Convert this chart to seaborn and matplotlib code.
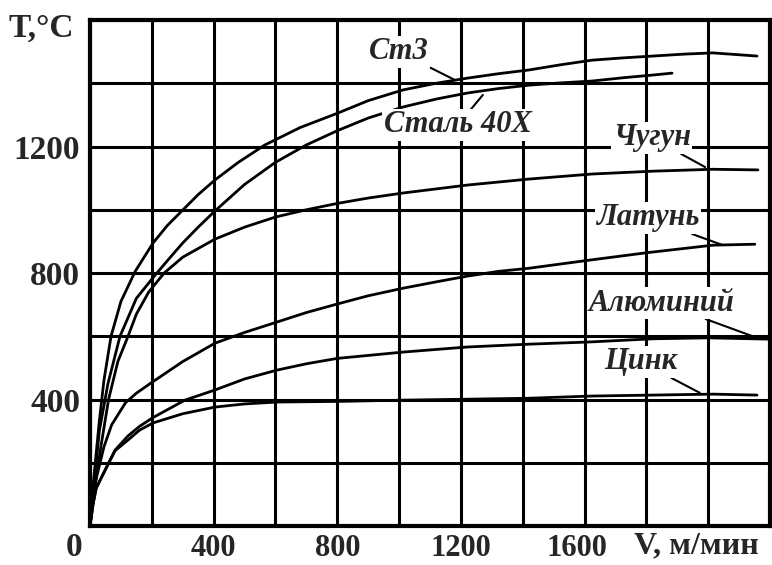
import pandas as pd
import seaborn as sns
import matplotlib.pyplot as plt
import matplotlib.transforms as mtransforms
from matplotlib.ticker import MultipleLocator, FuncFormatter

# V, m/min  and  T, deg C
v_st3 = [0, 5, 10, 19, 30, 45, 68, 100, 146, 204, 250, 301, 350, 404, 480, 566, 680, 800, 900,
         1013, 1120, 1220, 1320, 1420, 1520, 1624, 1721, 1821, 1920, 2015, 2158]
t_st3 = [0, 60, 130, 220, 330, 460, 600, 710, 805, 895, 950, 1000, 1048, 1094, 1150, 1205, 1260, 1305, 1345,
         1379, 1400, 1416, 1430, 1442, 1458, 1473, 1480, 1486, 1492, 1496, 1486]

v_40x = [0, 8, 15, 30, 58, 97, 150, 212, 260, 300, 350, 404, 500, 600, 700, 800, 900,
         1013, 1120, 1220, 1320, 1420, 1520, 1624, 1721, 1821, 1883]
t_40x = [0, 80, 150, 300, 450, 600, 720, 795, 850, 895, 945, 996, 1080, 1150, 1205, 1250, 1290,
         1325, 1350, 1369, 1383, 1394, 1401, 1407, 1417, 1426, 1432]

v_cast = [0, 8, 15, 35, 60, 90, 123, 150, 190, 240, 300, 404, 500, 600, 700, 800, 900,
          1013, 1220, 1420, 1624, 1821, 2015, 2161]
t_cast = [0, 70, 120, 250, 400, 520, 600, 670, 740, 800, 850, 907, 945, 977, 1000, 1020, 1037,
          1053, 1078, 1097, 1113, 1122, 1128, 1126]

v_brass = [0, 10, 20, 45, 70, 115, 150, 197, 300, 404, 500, 605, 700, 800, 900, 1013, 1120,
           1220, 1320, 1420, 1618, 1800, 2015, 2151]
t_brass = [0, 90, 150, 250, 320, 390, 420, 452, 520, 578, 612, 645, 675, 702, 728, 752, 772,
           790, 805, 815, 841, 864, 888, 891]

v_alu = [0, 10, 20, 49, 81, 123, 160, 204, 307, 404, 500, 605, 700, 800, 1013,
         1220, 1420, 1618, 1821, 2000, 2193]
t_alu = [0, 70, 120, 177, 240, 285, 315, 343, 398, 430, 465, 493, 513, 530, 550,
         566, 575, 582, 592, 595, 591]

v_zinc = [0, 10, 20, 49, 81, 123, 160, 204, 300, 404, 500, 605, 800, 1013,
          1220, 1420, 1624, 1821, 2015, 2158]
t_zinc = [0, 70, 120, 177, 238, 272, 303, 326, 355, 376, 386, 392, 394, 398,
          401, 404, 411, 414, 417, 414]

names = ["Ст3", "Сталь 40X", "Чугун", "Латунь", "Алюминий", "Цинк"]
series = [(v_st3, t_st3), (v_40x, t_40x), (v_cast, t_cast),
          (v_brass, t_brass), (v_alu, t_alu), (v_zinc, t_zinc)]

# label centre and the point on the curve the leader goes to
label_pos = [(1000, 1499), (1190, 1268), (1818, 1227), (1805, 974), (1850, 705), (1782, 519)]
leader_end = [(1181, 1410), (1271, 1363), (1990, 1135), (2045, 889), (2161, 594), (1973, 421)]

x_labels = [400, 800, 1200, 1600]
y_labels = [400, 800, 1200]

rows = []
for name, (v, t) in zip(names, series):
    for a, b in zip(v, t):
        rows.append((name, a, b))
df = pd.DataFrame(rows, columns=["material", "V", "T"])

sns.set_style("white")
plt.rcParams['font.family'] = ['Liberation Serif', 'DejaVu Serif']

fig = plt.figure(figsize=(7.72, 5.65), dpi=100)
ax = fig.add_axes([0.1166, 0.069, 0.8808, 0.8956])

sns.lineplot(data=df, x="V", y="T", units="material", estimator=None,
             color="black", lw=2.0, ax=ax, zorder=3)

ax.set(xlim=(0, 2200), ylim=(0, 1600), xlabel="", ylabel="")
ax.xaxis.set_major_locator(MultipleLocator(200))
ax.yaxis.set_major_locator(MultipleLocator(200))
ax.xaxis.set_major_formatter(FuncFormatter(lambda x, p: f"{x:.0f}" if round(x) in x_labels else ""))
ax.yaxis.set_major_formatter(FuncFormatter(lambda y, p: f"{y:.0f}" if round(y) in y_labels else ""))
ax.grid(True, color="black", lw=2.2)
ax.set_axisbelow(True)
ax.tick_params(length=0)
ax.tick_params(axis="x", labelsize=22, pad=16)
ax.tick_params(axis="y", labelsize=24, pad=7)
for lab in ax.get_xticklabels():
    lab.set_fontweight("bold")
    lab.set_va("center")
for lab in ax.get_yticklabels():
    lab.set_fontweight("bold")
for sp in ax.spines.values():
    sp.set_visible(True)
    sp.set_color("black")
    sp.set_linewidth(3)

# nudge "1600" left to make room for the axis name
fig.canvas.draw()
for lab in ax.get_xticklabels():
    if lab.get_text() == "1600":
        lab.set_transform(lab.get_transform() + mtransforms.ScaledTranslation(-8 / 100, 0, fig.dpi_scale_trans))

ax.text(-0.023, -0.042, "0", transform=ax.transAxes, fontsize=24, fontweight="bold",
        ha="center", va="center")
ax.text(0.891, -0.04, "V, м/мин", transform=ax.transAxes, fontsize=23, fontweight="bold",
        ha="center", va="center")
ax.text(-0.071, 0.984, "T,°C", transform=ax.transAxes, fontsize=24, fontweight="bold",
        ha="center", va="center")

for name, pos, end in zip(names, label_pos, leader_end):
    ax.annotate(name, xy=end, xytext=pos, fontsize=22, fontstyle="italic", fontweight="bold",
                ha="center", va="center", zorder=5,
                bbox=dict(boxstyle="square,pad=0.05", fc="white", ec="none"),
                arrowprops=dict(arrowstyle="-", color="black", lw=1.5, shrinkA=0, shrinkB=0))

fig.savefig("out.png", dpi=100)
